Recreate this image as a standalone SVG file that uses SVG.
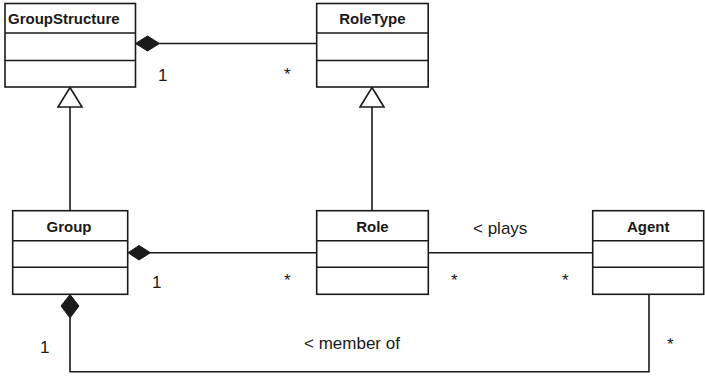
<svg xmlns="http://www.w3.org/2000/svg" width="705" height="376" viewBox="0 0 705 376">
<style>
.box{fill:#fff;stroke:#1a1a1a;stroke-width:1.6}
.sep{stroke:#1a1a1a;stroke-width:1.6}
.ln{fill:none;stroke:#1a1a1a;stroke-width:1.6}
.dia{fill:#1a1a1a;stroke:#1a1a1a;stroke-width:1}
.tri{fill:#fff;stroke:#1a1a1a;stroke-width:1.6}
.hd{font-family:"Liberation Sans",Arial,sans-serif;font-size:15px;font-weight:bold;fill:#1a1a1a}
.lb{font-family:"Liberation Sans",Arial,sans-serif;font-size:17px;fill:#1a1a1a}
</style>
<rect width="705" height="376" fill="#fff"/>
<g id="connectors">
  <line class="ln" x1="159" y1="43.5" x2="317" y2="43.5"/>
  <polygon class="dia" points="135.5,43.5 147.5,36 159.5,43.5 147.5,51"/>
  <line class="ln" x1="70" y1="107" x2="70" y2="211"/>
  <polygon class="tri" points="70,87.5 82,107 58,107"/>
  <line class="ln" x1="372" y1="107" x2="372" y2="211"/>
  <polygon class="tri" points="372,87.5 384,107 360,107"/>
  <line class="ln" x1="150" y1="252.7" x2="317" y2="252.7"/>
  <polygon class="dia" points="128,252.7 139,245.5 150.5,252.7 139,260"/>
  <line class="ln" x1="428.5" y1="252.7" x2="593" y2="252.7"/>
  <polyline class="ln" points="70,318 70,371.7 649,371.7 649,294.5"/>
  <polygon class="dia" points="70,294.5 79,306 70,318 61,306"/>
  <text class="lb" x="158" y="81">1</text>
  <text class="lb" x="284" y="80">*</text>
  <text class="lb" x="152" y="288">1</text>
  <text class="lb" x="284" y="286">*</text>
  <text class="lb" x="473" y="234">&lt; plays</text>
  <text class="lb" x="451" y="286">*</text>
  <text class="lb" x="562" y="286">*</text>
  <text class="lb" x="304" y="349">&lt; member of</text>
  <text class="lb" x="40" y="353">1</text>
  <text class="lb" x="667" y="350">*</text>
</g>
<g id="GroupStructure">
  <rect class="box" x="5" y="3.5" width="130.5" height="83.5"/>
  <line class="sep" x1="5" y1="33" x2="135.5" y2="33"/>
  <line class="sep" x1="5" y1="60.5" x2="135.5" y2="60.5"/>
  <text class="hd" x="8" y="24">GroupStructure</text>
</g>
<g id="RoleType">
  <rect class="box" x="316.7" y="3.5" width="111.5" height="83.5"/>
  <line class="sep" x1="316.7" y1="33" x2="428.2" y2="33"/>
  <line class="sep" x1="316.7" y1="60.5" x2="428.2" y2="60.5"/>
  <text class="hd" x="372.4" y="24" text-anchor="middle">RoleType</text>
</g>
<g id="Group">
  <rect class="box" x="12.7" y="210.7" width="115" height="83.6"/>
  <line class="sep" x1="12.7" y1="240.7" x2="127.7" y2="240.7"/>
  <line class="sep" x1="12.7" y1="267.3" x2="127.7" y2="267.3"/>
  <text class="hd" x="69" y="231.7" text-anchor="middle">Group</text>
</g>
<g id="Role">
  <rect class="box" x="316.7" y="210.7" width="111.6" height="83.6"/>
  <line class="sep" x1="316.7" y1="240.7" x2="428.3" y2="240.7"/>
  <line class="sep" x1="316.7" y1="267.3" x2="428.3" y2="267.3"/>
  <text class="hd" x="372.4" y="231.7" text-anchor="middle">Role</text>
</g>
<g id="Agent">
  <rect class="box" x="592.7" y="210.7" width="111" height="83.6"/>
  <line class="sep" x1="592.7" y1="240.7" x2="703.7" y2="240.7"/>
  <line class="sep" x1="592.7" y1="267.3" x2="703.7" y2="267.3"/>
  <text class="hd" x="648.2" y="231.7" text-anchor="middle">Agent</text>
</g>
</svg>
